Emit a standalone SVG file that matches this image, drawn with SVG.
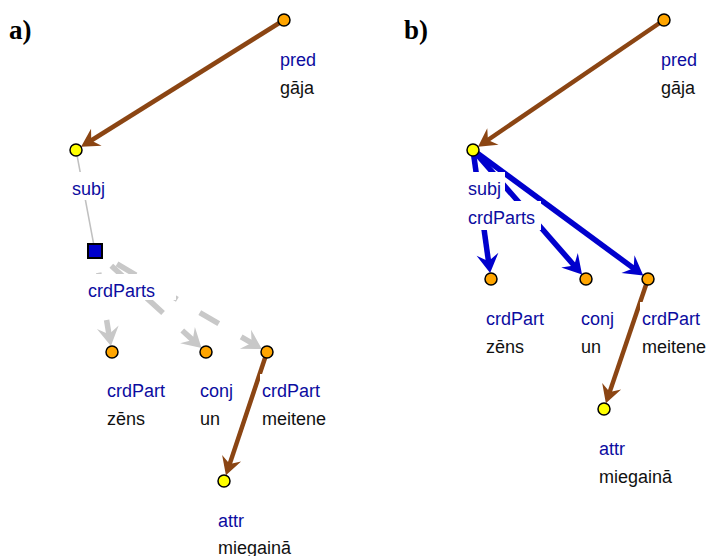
<svg xmlns="http://www.w3.org/2000/svg" width="709" height="556" viewBox="0 0 709 556">
<style>
.lbl{font-family:"Liberation Sans",Arial,sans-serif;font-size:18px;fill:#0c0ca0}
.word{font-family:"Liberation Sans",Arial,sans-serif;font-size:18px;fill:#111}
.box{fill:#fff;stroke:none}
.panel{font-family:"Liberation Serif","Times New Roman",serif;font-size:27px;font-weight:bold;fill:#000}
.org{fill:#ffa500;stroke:#000;stroke-width:1.5}
.yel{fill:#ffff00;stroke:#000;stroke-width:1.5}
.brown{stroke:#8b4513;stroke-width:4.5;fill:none;marker-end:url(#ahBrown)}
.blue{stroke:#0000cd;stroke-width:5.5;fill:none;marker-end:url(#ahBlue)}
.gray{stroke:#c8c8c8;stroke-width:5.5;fill:none;stroke-dasharray:22 26;marker-end:url(#ahGray)}
.thin{stroke:#c0c0c0;stroke-width:1.5;fill:none}
</style>
<defs>
<marker id="ahBrown" markerUnits="userSpaceOnUse" markerWidth="30" markerHeight="30" refX="0" refY="0" orient="auto" overflow="visible"><path d="M11,0 L-7,-10 L-1,0 L-7,10 Z" fill="#8b4513"/></marker>
<marker id="ahBlue" markerUnits="userSpaceOnUse" markerWidth="30" markerHeight="30" refX="0" refY="0" orient="auto" overflow="visible"><path d="M11,0 L-8,-11 L-1,0 L-8,11 Z" fill="#0000cd"/></marker>
<marker id="ahGray" markerUnits="userSpaceOnUse" markerWidth="30" markerHeight="30" refX="0" refY="0" orient="auto" overflow="visible"><path d="M11,0 L-8,-11 L-1,0 L-8,11 Z" fill="#c8c8c8"/></marker>
</defs>
<rect width="709" height="556" fill="#fff"/>
<text class="panel" x="9" y="39">a)</text>
<text class="panel" x="404" y="39">b)</text>

<g id="connectors">
<line class="brown" x1="284" y1="20" x2="90.4" y2="141"/>
<line class="thin" x1="76" y1="150" x2="95" y2="251"/>
<line class="gray" x1="98.7" y1="272.7" x2="109.1" y2="335.2"/>
<line class="gray" x1="111.3" y1="265.8" x2="193.4" y2="340.6"/>
<line class="gray" x1="117" y1="263.9" x2="252.4" y2="343.4"/>
<line class="brown" x1="267" y1="352" x2="229.4" y2="464.9"/>
<line class="brown" x1="664" y1="20" x2="487.1" y2="140.5"/>
<line class="blue" x1="473" y1="150" x2="488.6" y2="262.2"/>
<line class="blue" x1="473" y1="150" x2="574.8" y2="266.2"/>
<line class="blue" x1="473" y1="150" x2="634.4" y2="268.9"/>
<line class="brown" x1="648" y1="279" x2="609.4" y2="392.9"/>
</g>

<!-- panel a -->
<g id="a_pred">
<rect class="box" x="277" y="43" width="42" height="56"/>
<circle class="org" cx="284" cy="20" r="6"/>
<text class="lbl" x="280" y="66">pred</text>
<text class="word" x="280" y="94">gāja</text>
</g>
<g id="a_subj">
<rect class="box" x="68" y="172" width="40" height="28"/>
<circle class="yel" cx="76" cy="150" r="6"/>
<text class="lbl" x="72" y="195">subj</text>
</g>
<g id="a_coord">
<rect class="box" x="86" y="274" width="90" height="26"/>
<rect x="88" y="244" width="14" height="14" fill="#0000cc" stroke="#000" stroke-width="2"/>
<text class="lbl" x="88" y="297">crdParts</text>
</g>
<g id="a_zens">
<rect class="box" x="104" y="374" width="64" height="56"/>
<circle class="org" cx="112" cy="352" r="6"/>
<text class="lbl" x="107" y="397">crdPart</text>
<text class="word" x="107" y="425">zēns</text>
</g>
<g id="a_un">
<rect class="box" x="197" y="374" width="39" height="56"/>
<circle class="org" cx="206" cy="352" r="6"/>
<text class="lbl" x="200" y="397">conj</text>
<text class="word" x="200" y="425">un</text>
</g>
<g id="a_meitene">
<rect class="box" x="260" y="374" width="70" height="56"/>
<circle class="org" cx="267" cy="352" r="6"/>
<text class="lbl" x="262" y="397">crdPart</text>
<text class="word" x="262" y="425">meitene</text>
</g>
<g id="a_miegaina">
<rect class="box" x="215" y="504" width="79" height="52"/>
<circle class="yel" cx="224" cy="481" r="6"/>
<text class="lbl" x="218" y="527">attr</text>
<text class="word" x="218" y="554">miegainā</text>
</g>

<!-- panel b -->
<g id="b_pred">
<rect class="box" x="657" y="43" width="42" height="56"/>
<circle class="org" cx="664" cy="20" r="6"/>
<text class="lbl" x="661" y="66">pred</text>
<text class="word" x="661" y="94">gāja</text>
</g>
<g id="b_subj">
<rect class="box" x="465" y="172" width="40" height="29"/>
<rect class="box" x="465" y="201" width="76" height="29"/>
<circle class="yel" cx="473" cy="150" r="6"/>
<text class="lbl" x="468" y="195">subj</text>
<text class="lbl" x="468" y="224">crdParts</text>
</g>
<g id="b_zens">
<rect class="box" x="483" y="302" width="64" height="56"/>
<circle class="org" cx="491" cy="279" r="6"/>
<text class="lbl" x="486" y="325">crdPart</text>
<text class="word" x="486" y="353">zēns</text>
</g>
<g id="b_un">
<rect class="box" x="578" y="302" width="39" height="56"/>
<circle class="org" cx="586" cy="279" r="6"/>
<text class="lbl" x="581" y="325">conj</text>
<text class="word" x="581" y="353">un</text>
</g>
<g id="b_meitene">
<rect class="box" x="640" y="302" width="69" height="56"/>
<circle class="org" cx="648" cy="279" r="6"/>
<text class="lbl" x="642" y="325">crdPart</text>
<text class="word" x="642" y="353">meitene</text>
</g>
<g id="b_miegaina">
<rect class="box" x="596" y="432" width="79" height="56"/>
<circle class="yel" cx="604" cy="409" r="6"/>
<text class="lbl" x="599" y="455">attr</text>
<text class="word" x="599" y="483">miegainā</text>
</g>
</svg>
